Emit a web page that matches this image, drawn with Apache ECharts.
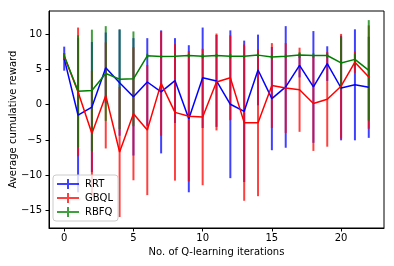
<!DOCTYPE html>
<html>
<head>
<meta charset="utf-8">
<script src="https://cdn.jsdelivr.net/npm/echarts@6/dist/echarts.min.js"></script>
<style>
html,body{margin:0;padding:0;background:#fff;}
#chart{width:394px;height:266px;}
</style>
</head>
<body>
<div id="chart"></div>
<script>
const iterations = [0,1,2,3,4,5,6,7,8,9,10,11,12,13,14,15,16,17,18,19,20,21,22];
const rrt    = [6.5,-1.5,-0.35,5.2,3.1,1.1,3.2,1.8,3.4,-2.0,3.8,3.35,0.05,-0.95,4.9,0.85,2.5,5.55,2.5,5.8,2.35,2.8,2.45];
const rrtErr = [1.7,10.9,9.2,5.0,7.5,8.3,6.2,8.7,6.0,10.4,7.1,6.5,10.45,10.0,5.0,7.3,8.6,1.7,7.9,2.45,7.4,7.85,7.15];
const gbql    = [6.8,1.8,-4.1,1.3,-6.7,-1.3,-3.6,3.0,-1.1,-1.65,-1.75,3.2,3.8,-2.55,-2.55,2.7,2.35,2.1,0.15,0.75,2.6,6.0,3.9];
const gbqlErr = [0.5,9.1,8.9,7.5,9.2,9.4,9.2,7.4,9.65,9.2,9.65,6.85,6.0,11.05,10.4,6.0,6.35,5.95,6.7,6.7,7.4,1.5,7.3];
const rbfq    = [6.9,1.9,2.0,4.4,3.6,3.65,6.9,6.8,6.85,6.95,6.85,6.95,6.85,6.85,7.0,6.75,6.85,7.0,6.95,6.95,5.9,6.4,4.85];
const rbfqErr = [0.4,7.9,8.6,6.7,7.05,6.7,0.3,0.2,0.25,0.2,0.3,0.2,0.3,0.2,0.3,0.3,0.25,0.4,0.3,0.3,3.7,0.8,7.1];
const xTicks = [0,5,10,15,20];
const yTicks = [-15,-10,-5,0,5,10];

const FONT = 'DejaVu Sans';
const minus = v => String(v).replace('-', '\u2212');
const plusIcon = 'path://M0,4 L10,4 L10,0 L12,0 L12,4 L22,4 L22,6 L12,6 L12,10 L10,10 L10,6 L0,6 Z';

function errSeries(name, vals, errs, color) {
  return {
    type: 'custom', name: name, z: 1,
    data: iterations.map((x, i) => [x, vals[i], errs[i]]),
    encode: {x: 0, y: 1},
    renderItem: function (params, api) {
      const x = api.value(0), y = api.value(1), e = api.value(2);
      const p1 = api.coord([x, y + e]);
      const p2 = api.coord([x, y - e]);
      return {type: 'line', shape: {x1: p1[0], y1: p1[1], x2: p2[0], y2: p2[1]},
              style: {stroke: color, lineWidth: 2}};
    }
  };
}
function lineSeries(name, vals, color) {
  return {
    type: 'line', name: name, z: 3, symbol: 'none', showSymbol: false,
    data: iterations.map((x, i) => [x, vals[i]]),
    lineStyle: {color: color, width: 1.5}, itemStyle: {color: color}
  };
}

const chart = echarts.init(document.getElementById('chart'), null, {renderer: 'canvas'});
chart.setOption({
  animation: false,
  backgroundColor: '#fff',
  textStyle: {fontFamily: FONT},
  grid: {left: 49, right: 10, top: 11, bottom: 38, containLabel: false, outerBoundsMode: 'none',
         show: true, borderColor: '#000', borderWidth: 1, backgroundColor: 'transparent'},
  legend: {
    left: 53, top: 175, orient: 'vertical',
    padding: [4, 5, 4, 4], itemGap: 4, itemWidth: 22, itemHeight: 10,
    backgroundColor: 'rgba(255,255,255,0.8)', borderColor: '#ccc', borderWidth: 1, borderRadius: 3,
    textStyle: {fontFamily: FONT, fontSize: 10, color: '#000', padding: [0,0,0,1]},
    data: [
      {name: 'RRT', icon: plusIcon, itemStyle: {color: 'rgba(0,0,255,0.75)'}},
      {name: 'GBQL', icon: plusIcon, itemStyle: {color: 'rgba(255,0,0,0.75)'}},
      {name: 'RBFQ', icon: plusIcon, itemStyle: {color: 'rgba(0,128,0,0.75)'}}
    ]
  },
  xAxis: {
    type: 'value', min: -1.1, max: 23.1,
    name: 'No. of Q-learning iterations', nameLocation: 'middle', nameGap: 19, nameMoveOverlap: false,
    nameTextStyle: {fontFamily: FONT, fontSize: 10, color: '#000'},
    axisLine: {show: true, onZero: false, lineStyle: {color: '#000', width: 1}},
    axisTick: {show: true, inside: false, length: 3.5, customValues: xTicks, lineStyle: {color: '#000'}},
    axisLabel: {show: true, customValues: xTicks, margin: 5, fontFamily: FONT, fontSize: 10, color: '#000', formatter: minus},
    splitLine: {show: false}
  },
  yAxis: {
    type: 'value', min: -17.45, max: 13.24,
    name: 'Average cumulative reward', nameLocation: 'middle', nameGap: 31, nameMoveOverlap: false,
    nameTextStyle: {fontFamily: FONT, fontSize: 10, color: '#000'},
    axisLine: {show: true, onZero: false, lineStyle: {color: '#000', width: 1}},
    axisTick: {show: true, inside: false, length: 3.5, customValues: yTicks, lineStyle: {color: '#000'}},
    axisLabel: {show: true, customValues: yTicks, margin: 7, fontFamily: FONT, fontSize: 10, color: '#000', formatter: minus},
    splitLine: {show: false}
  },
  series: [
    errSeries('RRT', rrt, rrtErr, 'rgba(0,0,255,0.75)'),
    errSeries('GBQL', gbql, gbqlErr, 'rgba(255,0,0,0.75)'),
    errSeries('RBFQ', rbfq, rbfqErr, 'rgba(0,128,0,0.75)'),
    lineSeries('RRT', rrt, '#0000ff'),
    lineSeries('GBQL', gbql, '#ff0000'),
    lineSeries('RBFQ', rbfq, '#008000')
  ]
});
</script>
</body>
</html>
